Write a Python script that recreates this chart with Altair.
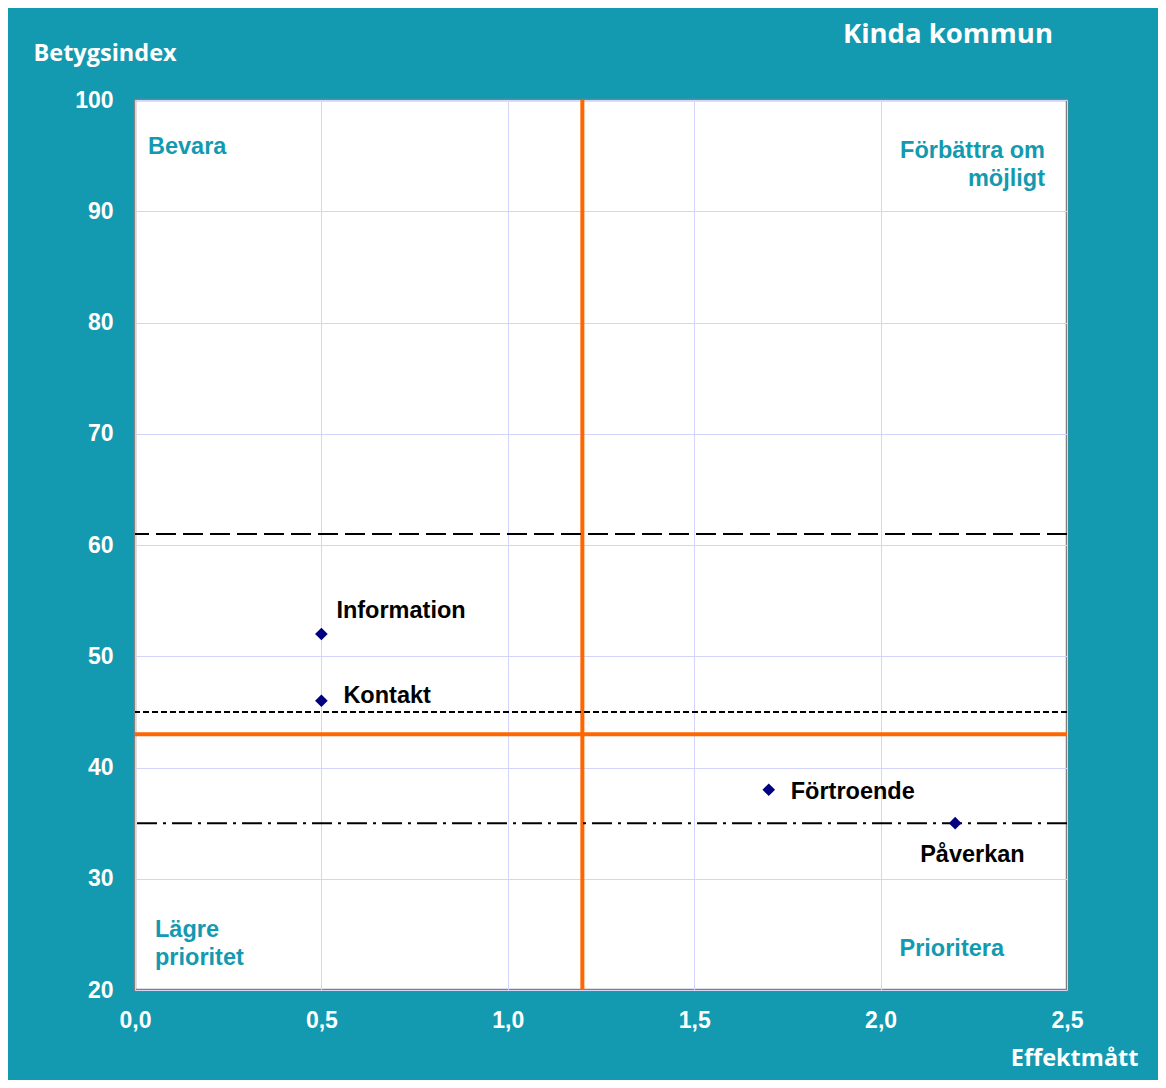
import altair as alt
import pandas as pd

# ---- data ----
names = ["Information", "Kontakt", "Förtroende", "Påverkan"]
effekt = [0.5, 0.5, 1.7, 2.2]
betyg = [52, 46, 38, 35]
x_ticks = [0.0, 0.5, 1.0, 1.5, 2.0, 2.5]
y_ticks = [20, 30, 40, 50, 60, 70, 80, 90, 100]
x_domain = [0, 2.5]
y_domain = [20, 100]
orange_x = [1.2]
orange_y = [43]
ref_long_dash = [61]
ref_short_dash = [45]
ref_dash_dot = [35]

TEAL = "#139ab0"
ARIAL = "Liberation Sans"
TITLEFONT = "Open Sans"

pts = pd.DataFrame({"name": names, "x": effekt, "y": betyg})

xscale = alt.Scale(domain=x_domain, nice=False, zero=False)
yscale = alt.Scale(domain=y_domain, nice=False, zero=False)

xaxis = alt.Axis(
    values=x_ticks,
    labelExpr="replace(format(datum.value, '.1f'), '.', ',')",
    grid=True, gridColor="#d4d4f8", gridWidth=1,
    ticks=False, domain=False,
    labelFont=ARIAL, labelFontWeight="bold", labelFontSize=23,
    labelColor="white", labelPadding=30, labelBaseline="middle",
    labelFlush=False,
    title="Effektmått", titleX=1003, titleY=68, titleAlign="right",
    titleBaseline="middle", titleFont=TITLEFONT, titleFontSize=23.5,
    titleFontWeight="bold", titleColor="white",
)
yaxis = alt.Axis(
    values=y_ticks,
    grid=True, gridColor="#d4d4f8", gridWidth=1,
    ticks=False, domain=False,
    labelFont=ARIAL, labelFontWeight="bold", labelFontSize=23,
    labelColor="white", labelPadding=22, labelFlush=False,
    title="Betygsindex", titleX=-102, titleY=-47, titleAlign="left",
    titleAngle=0, titleBaseline="middle", titleFont=TITLEFONT,
    titleFontSize=23.5, titleFontWeight="bold", titleColor="white",
)

X = alt.X("x:Q", scale=xscale, axis=xaxis)
Y = alt.Y("y:Q", scale=yscale, axis=yaxis)

orange_v = alt.Chart(pd.DataFrame({"x": orange_x})).mark_rule(
    color="#ff6600", strokeWidth=4).encode(x=X)
orange_h = alt.Chart(pd.DataFrame({"y": orange_y})).mark_rule(
    color="#ff6600", strokeWidth=4).encode(y=Y)

long_dash = alt.Chart(pd.DataFrame({"y": ref_long_dash})).mark_rule(
    color="black", strokeWidth=2, strokeDash=[20, 7]).encode(y=Y)
short_dash = alt.Chart(pd.DataFrame({"y": ref_short_dash})).mark_rule(
    color="black", strokeWidth=2, strokeDash=[6, 3]).encode(y=Y)
dash_dot = alt.Chart(pd.DataFrame({"y": ref_dash_dot})).mark_rule(
    color="black", strokeWidth=2, strokeDash=[20, 6, 3, 6]).encode(y=Y)

points = alt.Chart(pts).mark_point(
    shape="diamond", filled=True, color="#000080", size=160, opacity=1
).encode(x=X, y=Y)

label_offsets = {
    "Information": (15, -16),
    "Kontakt": (22, 2),
    "Förtroende": (22, 9),
    "Påverkan": (-35, 39),
}
label_layers = []
for nm, (dx, dy) in label_offsets.items():
    label_layers.append(
        alt.Chart(pts).transform_filter(alt.datum.name == nm).mark_text(
            font=ARIAL, fontWeight="bold", fontSize=23.5, color="black",
            align="left", baseline="alphabetic", dx=dx, dy=dy
        ).encode(x=X, y=Y, text="name:N")
    )

# quadrant annotations anchored at the domain corners
def corner(xv, yv, text, align, dx, dy):
    return alt.Chart(pd.DataFrame({"x": [xv], "y": [yv]})).mark_text(
        text=text, font=ARIAL, fontWeight="bold", fontSize=23.5,
        color=TEAL, align=align, baseline="alphabetic", dx=dx, dy=dy,
        lineHeight=28
    ).encode(x=X, y=Y)

q1 = corner(x_domain[0], y_domain[1], "Bevara", "left", 13, 54)
q2 = corner(x_domain[1], y_domain[1], ["Förbättra om", "möjligt"], "right", -22, 58)
q3 = corner(x_domain[0], y_domain[0], ["Lägre", "prioritet"], "left", 20, -53)
q4 = corner(x_domain[1], y_domain[0], "Prioritera", "right", -63, -34)

chart = alt.layer(
    orange_v, orange_h, long_dash, short_dash, dash_dot, points,
    *label_layers, q1, q2, q3, q4
).properties(
    width=932, height=890,
    title=alt.TitleParams(
        "Kinda kommun", anchor="end", frame="group", font=TITLEFONT,
        fontSize=27.5, fontWeight="bold", color="white", dx=-14, offset=20,
        dy=27
    ),
    background=TEAL,
    padding={"left": 127, "top": 92, "right": 91, "bottom": 90},
    autosize=alt.AutoSizeParams(type="none"),
).configure_view(fill="white", stroke="#808080", strokeWidth=2.5)

chart.save("out.html", embed_options={"renderer": "svg", "actions": False})
